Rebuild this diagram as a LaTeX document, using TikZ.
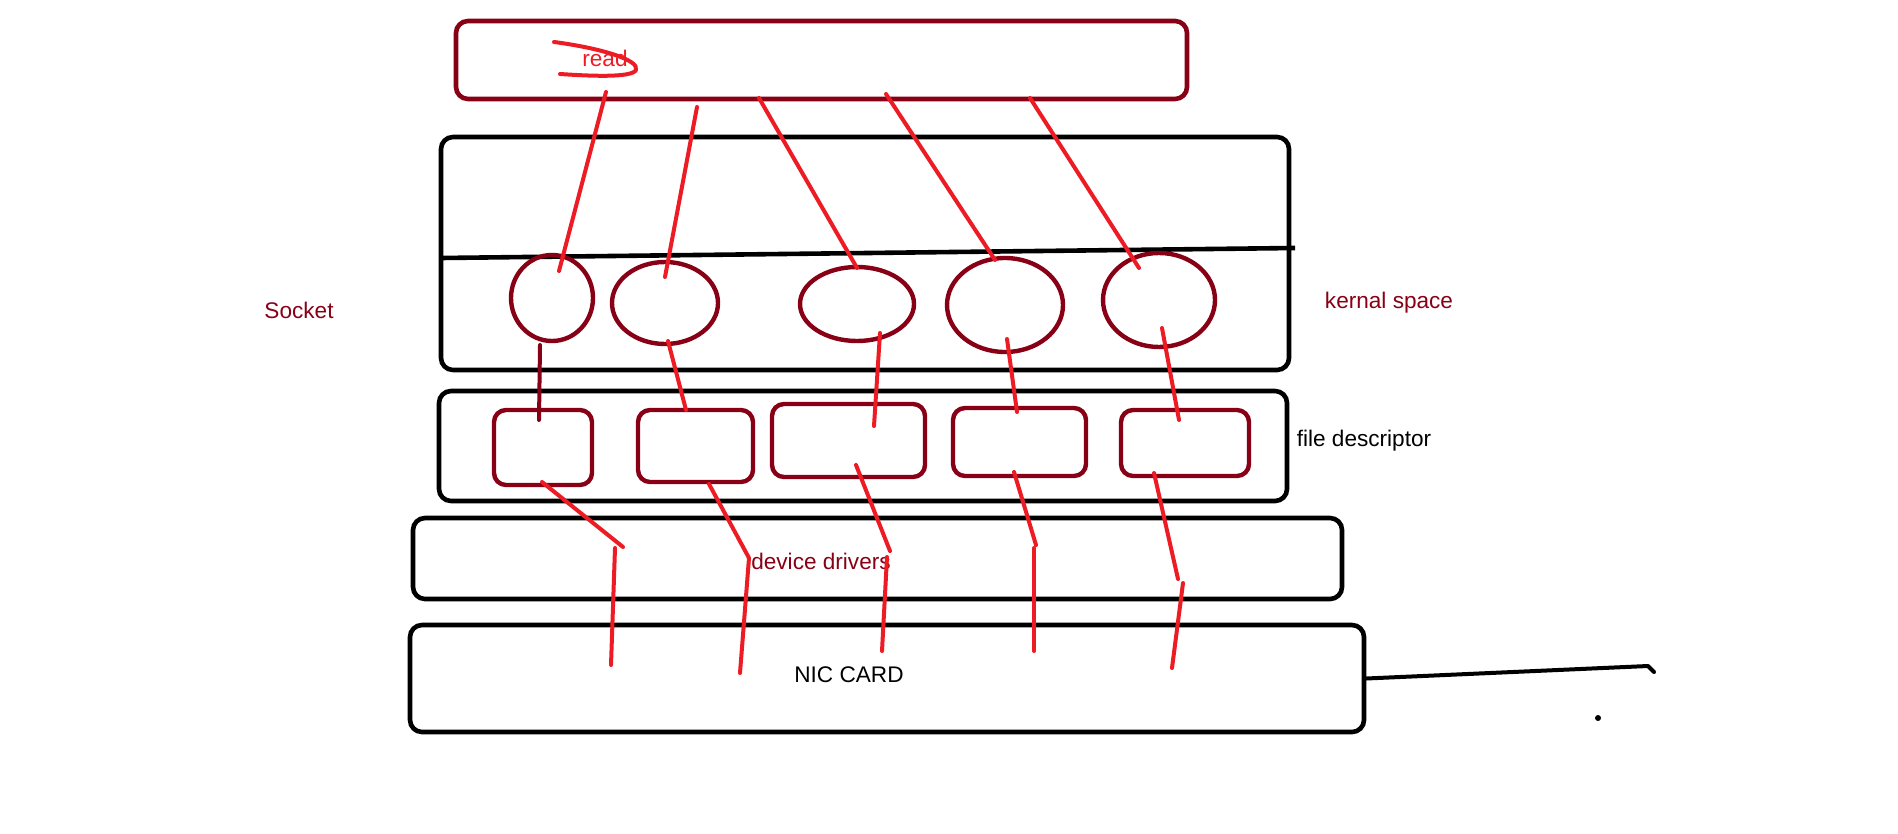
\documentclass[tikz,border=0pt]{standalone}
\usepackage{fontspec}
\setmainfont{Liberation Sans}
\usetikzlibrary{shapes,positioning}
\definecolor{pdred}{RGB}{136,0,21}
\definecolor{pred}{RGB}{237,28,36}
\tikzstyle{layer} = [rectangle, rounded corners=6pt, draw=black, line width=2.3pt, inner sep=0pt]
\tikzstyle{sock} = [ellipse, draw=pdred, line width=2.2pt, inner sep=0pt]
\tikzstyle{fdbox} = [rectangle, rounded corners=6pt, draw=pdred, line width=2.2pt, inner sep=0pt]
\tikzstyle{wire} = [line width=2pt, color=pred, line cap=round, line join=round]
\tikzstyle{lbl} = [font=\fontsize{11.3}{13}\selectfont, inner sep=0pt]

\begin{document}
\begin{tikzpicture}[x=0.5pt,y=-0.5pt]
\useasboundingbox (0,0) rectangle (1898,834);

% Layers
\node (user) [layer, draw=pdred, minimum width=365.5pt, minimum height=39pt] at (821.5,60) {};
\node (kernel) [layer, minimum width=424pt, minimum height=116.5pt] at (865,253.5) {};
\node (fdlayer) [layer, minimum width=424pt, minimum height=55pt] at (863,446) {};
\node (driver) [layer, minimum width=464.5pt, minimum height=40.5pt] at (877.5,558.5) {};
\node (nic) [layer, minimum width=477pt, minimum height=53.5pt] at (887,678.5) {};

\coordinate (divL) at (441,258);
\coordinate (divR) at (1295,248);
\draw[line width=2.3pt] (divL) -- (divR);

% Sockets
\node (e1) [sock, minimum width=41pt, minimum height=43pt] at (552,298) {};
\node (e2) [sock, minimum width=53pt, minimum height=41pt] at (665,303) {};
\node (e3) [sock, minimum width=57pt, minimum height=37pt] at (857,304) {};
\node (e4) [sock, minimum width=58pt, minimum height=47pt] at (1005,305) {};
\node (e5) [sock, minimum width=56pt, minimum height=47pt] at (1159,300) {};

% File descriptors
\node (f1) [fdbox, minimum width=49pt, minimum height=37.5pt] at (543,447.5) {};
\node (f2) [fdbox, minimum width=57.5pt, minimum height=36pt] at (695.5,446) {};
\node (f3) [fdbox, minimum width=76.5pt, minimum height=36.5pt] at (848.5,440.5) {};
\node (f4) [fdbox, minimum width=66.5pt, minimum height=34pt] at (1019.5,442) {};
\node (f5) [fdbox, minimum width=64pt, minimum height=33pt] at (1185,443) {};

% Labels
\node (readlbl) [lbl, text=pred] at (605,58) {read};
\node (socklbl) [lbl, text=pdred] at (299,310) {Socket};
\node (kernlbl) [lbl, text=pdred] at (1389,303) {kernal space};
\node (fdlbl) [lbl] at (1364,441) {file descriptor};
\node (drvlbl) [lbl, text=pdred] at (821,561) {device drivers};
\node (niclbl) [lbl] at (849,675) {NIC CARD};

% Scribble over read
\draw[wire] (554,42) .. controls (600,48) and (640,60) .. (636,70) .. controls (632,78) and (590,76) .. (560,74);

% read -> sockets
\coordinate (a1s) at (606,92);  \coordinate (a1e) at (559,271);
\coordinate (a2s) at (697,107); \coordinate (a2e) at (665,277);
\coordinate (a3s) at (759,98);  \coordinate (a3e) at (857,268);
\coordinate (a4s) at (886,94);  \coordinate (a4e) at (995,260);
\coordinate (a5s) at (1030,98); \coordinate (a5e) at (1139,268);
\draw[wire] (a1s) -- (a1e);
\draw[wire] (a2s) -- (a2e);
\draw[wire] (a3s) -- (a3e);
\draw[wire] (a4s) -- (a4e);
\draw[wire] (a5s) -- (a5e);

% sockets -> file descriptors
\coordinate (b1s) at (540,345);  \coordinate (b1e) at (539,420);
\coordinate (b2s) at (668,341);  \coordinate (b2e) at (686,410);
\coordinate (b3s) at (880,333);  \coordinate (b3e) at (874,426);
\coordinate (b4s) at (1007,339); \coordinate (b4e) at (1017,412);
\coordinate (b5s) at (1162,328); \coordinate (b5e) at (1179,420);
\draw[wire, color=pdred] (b1s) -- (b1e);
\draw[wire] (b2s) -- (b2e);
\draw[wire] (b3s) -- (b3e);
\draw[wire] (b4s) -- (b4e);
\draw[wire] (b5s) -- (b5e);

% file descriptors -> drivers -> NIC
\coordinate (c1s) at (542,482);  \coordinate (c1k) at (623,547); \coordinate (c1j) at (615,548); \coordinate (c1e) at (611,665);
\coordinate (c2s) at (709,484);  \coordinate (c2k) at (749,558); \coordinate (c2e) at (740,673);
\coordinate (c3s) at (856,465);  \coordinate (c3k) at (890,551); \coordinate (c3j) at (887,557); \coordinate (c3e) at (882,651);
\coordinate (c4s) at (1014,472); \coordinate (c4k) at (1036,545); \coordinate (c4j) at (1034,548); \coordinate (c4e) at (1034,651);
\coordinate (c5s) at (1154,473); \coordinate (c5k) at (1178,579); \coordinate (c5j) at (1183,583); \coordinate (c5e) at (1172,668);
\draw[wire] (c1s) -- (c1k); \draw[wire] (c1j) -- (c1e);
\draw[wire] (c2s) -- (c2k) -- (c2e);
\draw[wire] (c3s) -- (c3k); \draw[wire] (c3j) -- (c3e);
\draw[wire] (c4s) -- (c4k); \draw[wire] (c4j) -- (c4e);
\draw[wire] (c5s) -- (c5k); \draw[wire] (c5j) -- (c5e);

% NIC out line
\coordinate (out1) at (1648,666);
\coordinate (out2) at (1654,672);
\draw[line width=2pt, line cap=round, line join=round] (nic.east) -- (out1) -- (out2);
\coordinate (dot) at (1598,718);
\fill (dot) circle (3);
\end{tikzpicture}
\end{document}
